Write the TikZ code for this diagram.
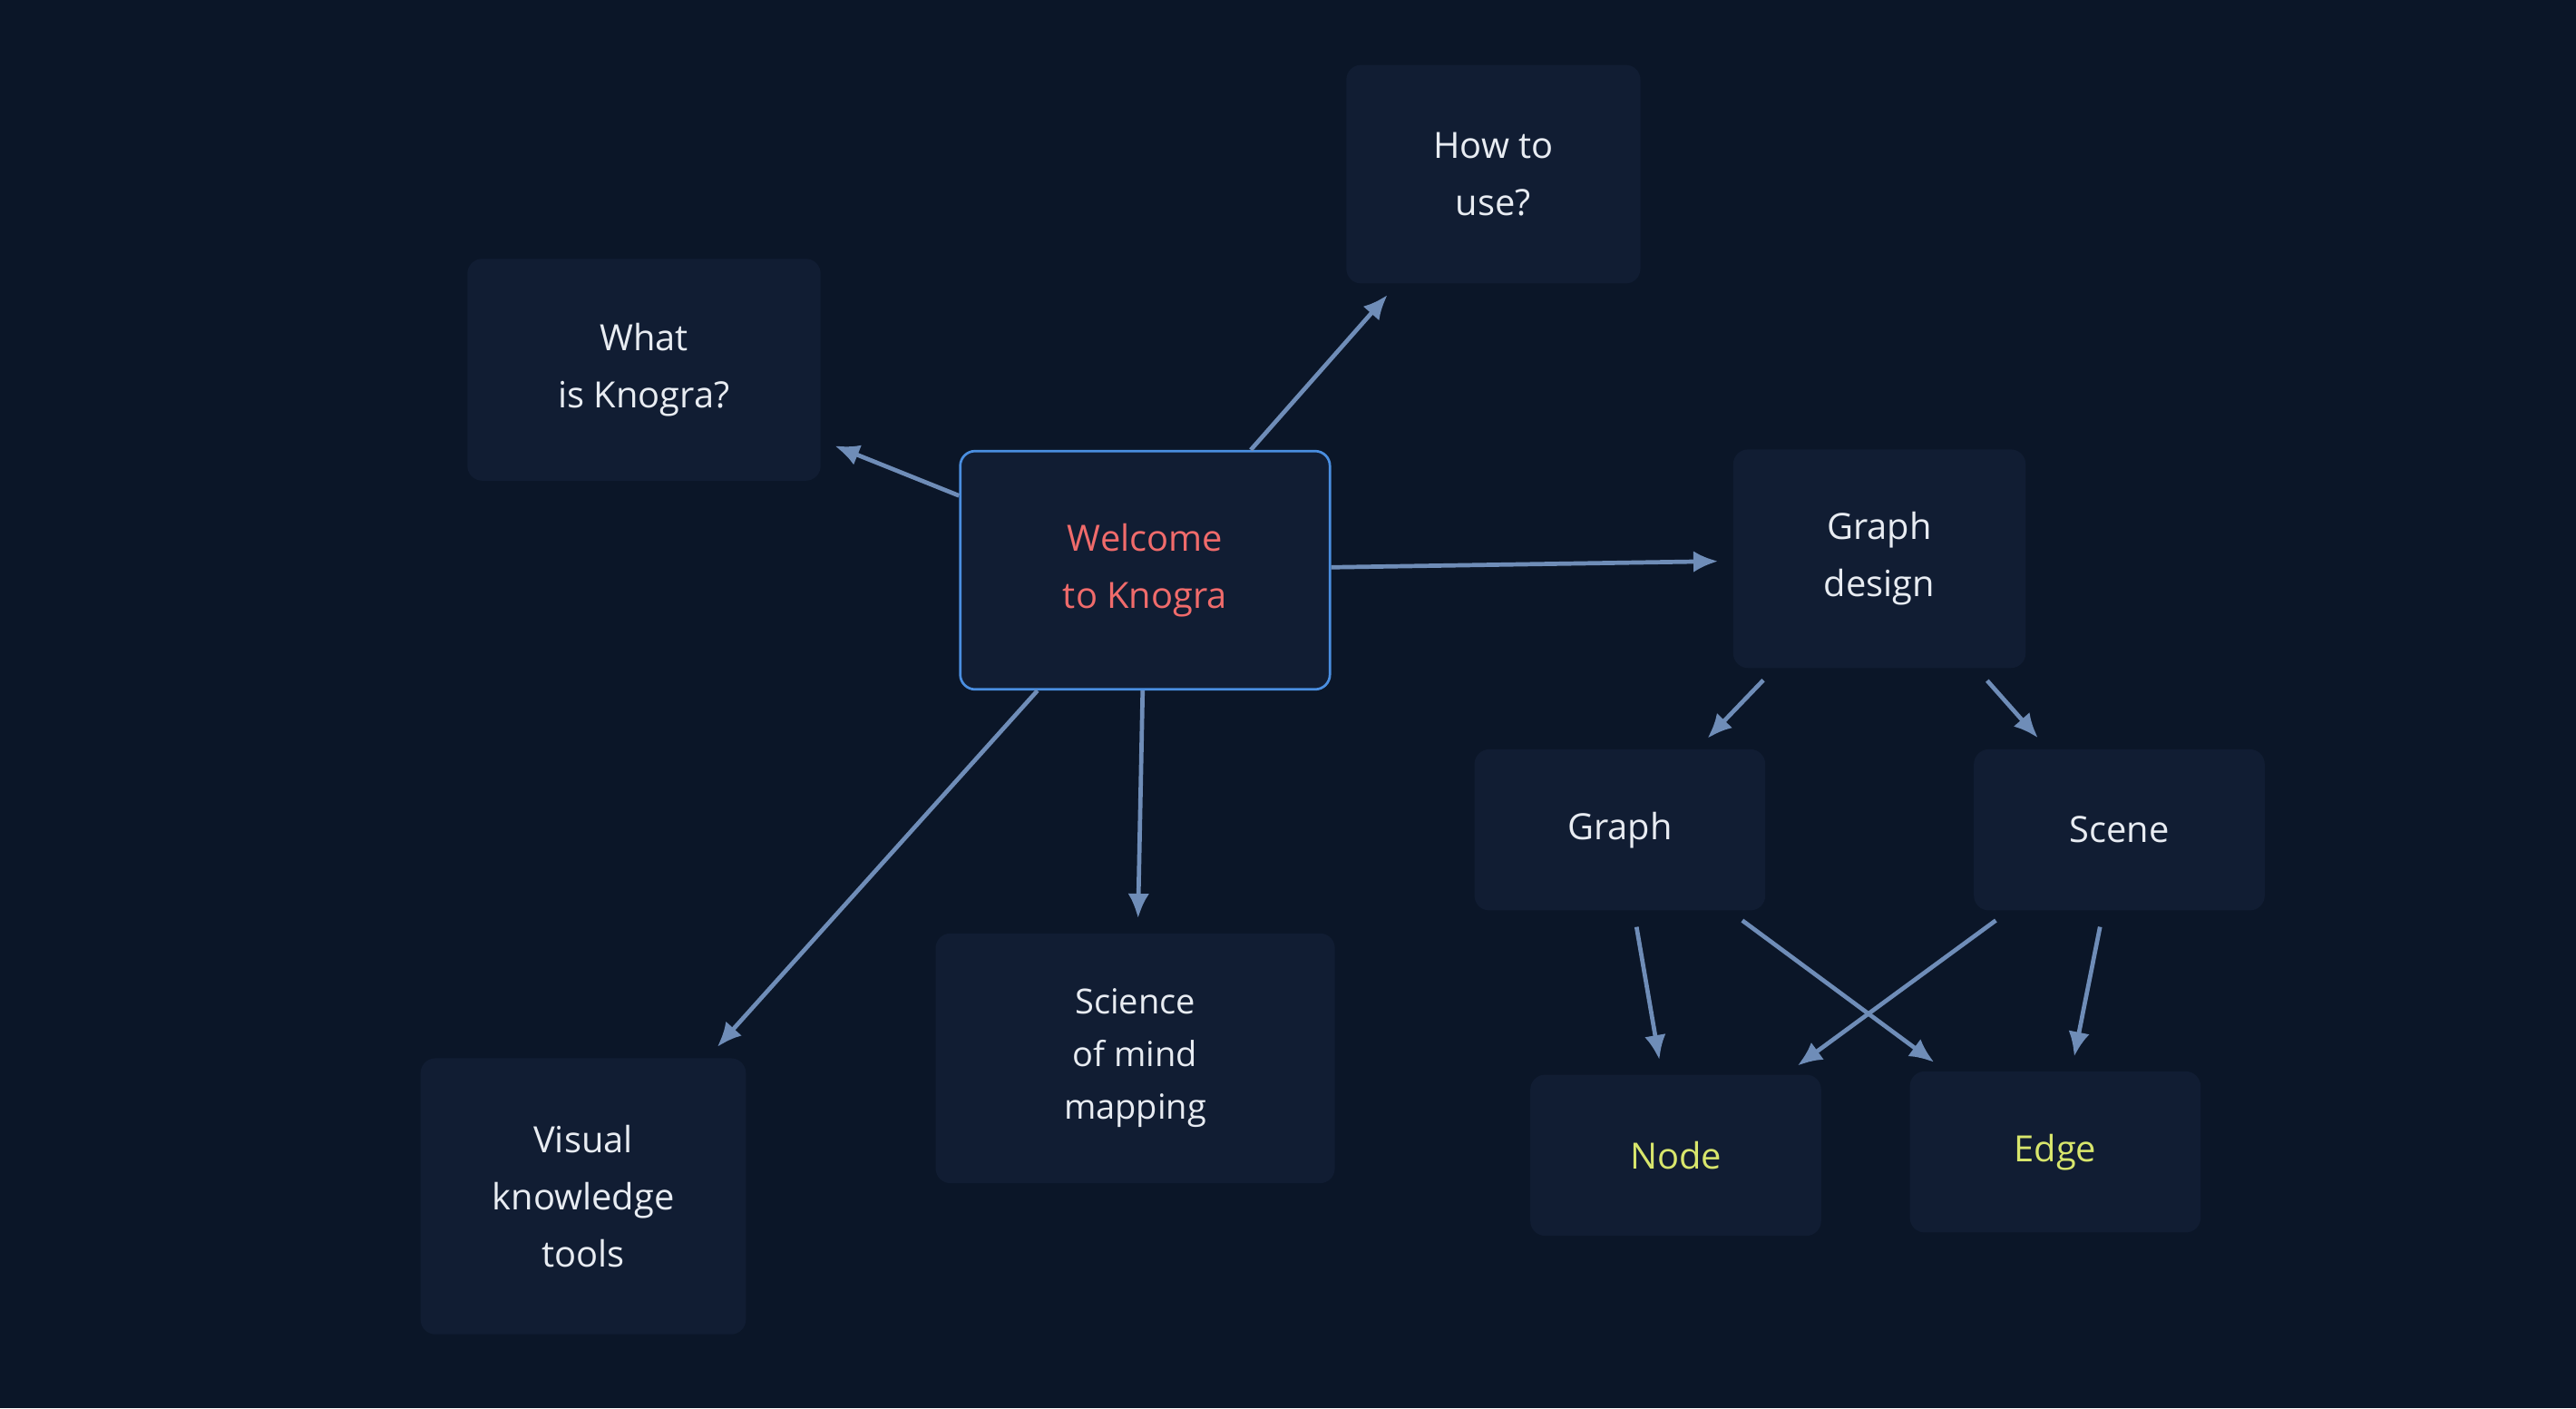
\documentclass[tikz,border=0pt]{standalone}
\usepackage{fontspec}
\setmainfont{Open Sans}
\usetikzlibrary{arrows.meta}
\definecolor{bg}{HTML}{0B1628}
\definecolor{box}{HTML}{111D33}
\definecolor{arr}{HTML}{6F8DB8}
\definecolor{txt}{HTML}{E8ECF2}
\definecolor{red}{HTML}{F06B6B}
\definecolor{yel}{HTML}{D8E66C}
\definecolor{bord}{HTML}{4A8EE0}
\begin{document}
\begin{tikzpicture}[x=1pt,y=-1pt,
  bx/.style={fill=box,rounded corners=9pt,align=center,text=txt,font=\fontsize{22}{35}\selectfont,inner sep=0pt},
  ar/.style={draw=arr,line width=2.6pt,-{Latex[length=15pt,width=13pt]},shorten >=9pt,shorten <=10pt}]
\fill[bg] (0,0) rectangle (1568,857);
\useasboundingbox (0,0) rectangle (1568,857);
\node[bx,minimum width=179pt,minimum height=133pt] (how) at (909,106) {How to\\use?};
\node[bx,minimum width=215pt,minimum height=135pt] (what) at (392,225) {What\\is Knogra?};
\node[bx,minimum width=225pt,minimum height=145pt,draw=bord,line width=1.5pt,text=red] (wel) at (697,347) {Welcome\\to Knogra};
\node[bx,minimum width=178pt,minimum height=133pt] (gd) at (1144,340) {Graph\\design};
\node[bx,minimum width=177pt,minimum height=98pt] (graph) at (986,505) {Graph};
\node[bx,minimum width=177pt,minimum height=98pt] (scene) at (1290,505) {Scene};
\node[bx,minimum width=177pt,minimum height=98pt,text=yel] (node) at (1020,703) {Node};
\node[bx,minimum width=177pt,minimum height=98pt,text=yel] (edge) at (1251,701) {Edge};
\node[bx,minimum width=243pt,minimum height=152pt,font=\fontsize{21}{32}\selectfont] (sci) at (691,644) {Science\\of mind\\mapping};
\node[bx,minimum width=198pt,minimum height=168pt] (vis) at (355,728) {Visual\\knowledge\\tools};
\draw[ar,shorten <=0pt] (wel) -- (how);
\draw[ar,shorten <=0pt] (wel) -- (what);
\draw[ar,shorten <=0pt] (wel) -- (gd);
\draw[ar,shorten <=0pt] (wel) -- (sci);
\draw[ar,shorten <=0pt] (wel) -- (vis);
\draw[ar] (gd) -- (graph);
\draw[ar] (gd) -- (scene);
\draw[ar] (graph) -- (node);
\draw[ar] (graph) -- (edge);
\draw[ar] (scene) -- (node);
\draw[ar] (scene) -- (edge);
\end{tikzpicture}
\end{document}
